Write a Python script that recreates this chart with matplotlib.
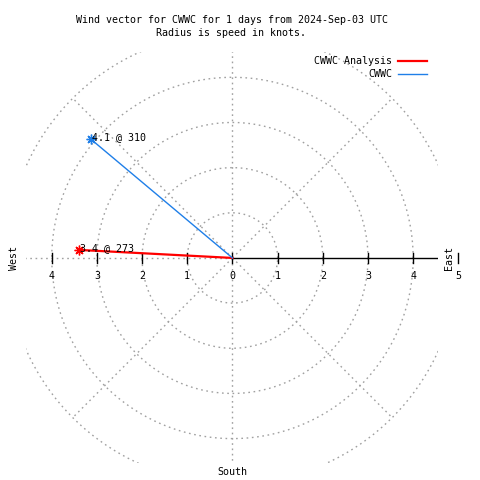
import numpy as np
import matplotlib
matplotlib.use("Agg")
import matplotlib.pyplot as plt

# wind vectors (speed in knots, direction in degrees)
names = ["CWWC Analysis", "CWWC"]
speeds = [3.4, 4.1]
directions = [273, 310]
colors = ["#ff0000", "#1f7fe8"]
widths = [1.6, 1.0]

rings = [1, 2, 3, 4, 5]
spokes = [0, 45, 135, 180, 225, 270, 315]
east_ticks = [0, 1, 2, 3, 4, 5]
west_ticks = [1, 2, 3, 4]

plt.rcParams["font.family"] = "DejaVu Sans Mono"
plt.rcParams["font.size"] = 7.2

fig = plt.figure(figsize=(4.8, 4.8), dpi=100)
ax = fig.add_axes([26 / 480, 17 / 480, 412 / 480, 411 / 480])
ax.set_xlim(-4.57, 4.55)
ax.set_ylim(-4.54, 4.56)
ax.axis("off")

grid = dict(color="#a0a0a0", lw=1.0, ls=(0, (1.2, 2.6)))
t = np.linspace(0, 2 * np.pi, 500)
for r in rings:
    ax.plot(r * np.cos(t), r * np.sin(t), **grid)
for a in spokes:
    ax.plot([0, 5 * np.sin(np.radians(a))], [0, 5 * np.cos(np.radians(a))], **grid)

# east axis
ax.plot([0, 5], [0, 0], color="black", lw=1)
for x in east_ticks:
    ax.plot([x, x], [-0.11, 0.11], color="black", lw=1, clip_on=False)
    ax.text(x, -0.4, str(x), ha="center", va="center", clip_on=False)
for x in west_ticks:
    ax.plot([-x, -x], [-0.11, 0.11], color="black", lw=1)
    ax.text(-x, -0.4, str(x), ha="center", va="center")

ax.text(-4.83, 0, "West", rotation=90, ha="center", va="center", clip_on=False)
ax.text(4.79, 0, "East", rotation=90, ha="center", va="center", clip_on=False)
ax.text(0, -4.73, "South", ha="center", va="center", clip_on=False)

handles = []
for name, s, d, c, w in zip(names, speeds, directions, colors, widths):
    x = s * np.sin(np.radians(d))
    y = s * np.cos(np.radians(d))
    line, = ax.plot([0, x], [0, y], color=c, lw=w)
    handles.append(line)
    ax.plot(x, y, marker=(8, 2, 0), ms=7, mec=c, mew=1.0, ls="none")
    ax.text(x + 0.03, y + 0.03, f"{s} @ {d}", ha="left", va="center")

fig.legend(handles, names, loc="upper right", bbox_to_anchor=(427 / 480, 1 - 56 / 480),
           markerfirst=False, frameon=False, handlelength=2.9, handletextpad=0.6,
           labelspacing=0.3, borderpad=0, borderaxespad=0)

fig.text(231.5 / 480, 1 - 26.5 / 480,
         "Wind vector for CWWC for 1 days from 2024-Sep-03 UTC\nRadius is speed in knots.",
         ha="center", va="center", linespacing=1.3)

fig.savefig("out.png", dpi=100)
